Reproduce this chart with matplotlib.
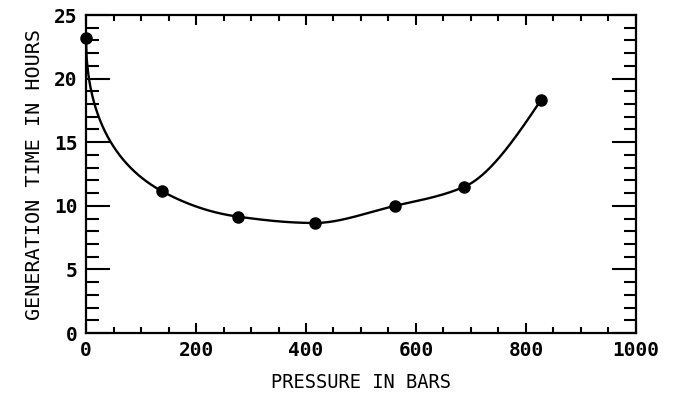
"""
Generation time versus hydrostatic pressure
"""

import numpy as np
import matplotlib.pyplot as plt
from matplotlib.ticker import MultipleLocator

pressure = [0, 138, 276, 416, 562, 688, 827]          # bars
gen_time = [23.2, 11.15, 9.15, 8.65, 10.0, 11.5, 18.3]  # hours


def pchip(x, y, xs):
    # shape preserving cubic through the measured points
    x = np.asarray(x, float)
    y = np.asarray(y, float)
    h = np.diff(x)
    d = np.diff(y) / h
    m = np.zeros_like(y)
    for k in range(1, len(x) - 1):
        if d[k-1] * d[k] > 0:
            w1 = 2*h[k] + h[k-1]
            w2 = h[k] + 2*h[k-1]
            m[k] = (w1 + w2) / (w1/d[k-1] + w2/d[k])
    m[0] = ((2*h[0] + h[1])*d[0] - h[0]*d[1]) / (h[0] + h[1])
    if np.sign(m[0]) != np.sign(d[0]):
        m[0] = 0
    m[-1] = ((2*h[-1] + h[-2])*d[-1] - h[-1]*d[-2]) / (h[-1] + h[-2])
    if np.sign(m[-1]) != np.sign(d[-1]):
        m[-1] = 0
    idx = np.clip(np.searchsorted(x, xs) - 1, 0, len(x) - 2)
    t = (xs - x[idx]) / h[idx]
    h00 = 2*t**3 - 3*t**2 + 1
    h10 = t**3 - 2*t**2 + t
    h01 = -2*t**3 + 3*t**2
    h11 = t**3 - t**2
    return h00*y[idx] + h10*h[idx]*m[idx] + h01*y[idx+1] + h11*h[idx]*m[idx+1]


plt.rcParams['font.family'] = 'DejaVu Sans Mono'
plt.rcParams['font.weight'] = 'bold'

fig = plt.figure(figsize=(6.73, 3.97), dpi=100)
ax = fig.add_axes([0.1278, 0.1612, 0.8172, 0.801])

# smooth curve through the points, interpolated in sqrt(pressure)
xs = np.linspace(pressure[0], pressure[-1], 800)
ys = pchip(np.sqrt(pressure), gen_time, np.sqrt(xs))
ax.plot(xs, ys, color='black', lw=1.7, clip_on=False)
ax.plot(pressure, gen_time, 'o', color='black', ms=8, clip_on=False)

ax.set_xlim(0, 1000)
ax.set_ylim(0, 25)
ax.xaxis.set_major_locator(MultipleLocator(200))
ax.xaxis.set_minor_locator(MultipleLocator(50))
ax.yaxis.set_major_locator(MultipleLocator(5))
ax.yaxis.set_minor_locator(MultipleLocator(1))

ax.tick_params(which='both', direction='in', top=True, right=True,
               width=1.5, labelsize=14, colors='black')
ax.tick_params(axis='x', which='major', length=7, pad=6)
ax.tick_params(axis='x', which='minor', length=4)
ax.tick_params(axis='y', which='major', length=17, pad=6)
ax.tick_params(axis='y', which='minor', length=9)

for s in ax.spines.values():
    s.set_linewidth(1.6)

ax.set_xlabel("PRESSURE IN BARS", fontsize=13.5, labelpad=9)
ax.set_ylabel("GENERATION TIME IN HOURS", fontsize=14.5, labelpad=7)

plt.savefig("out.png", dpi=100)
